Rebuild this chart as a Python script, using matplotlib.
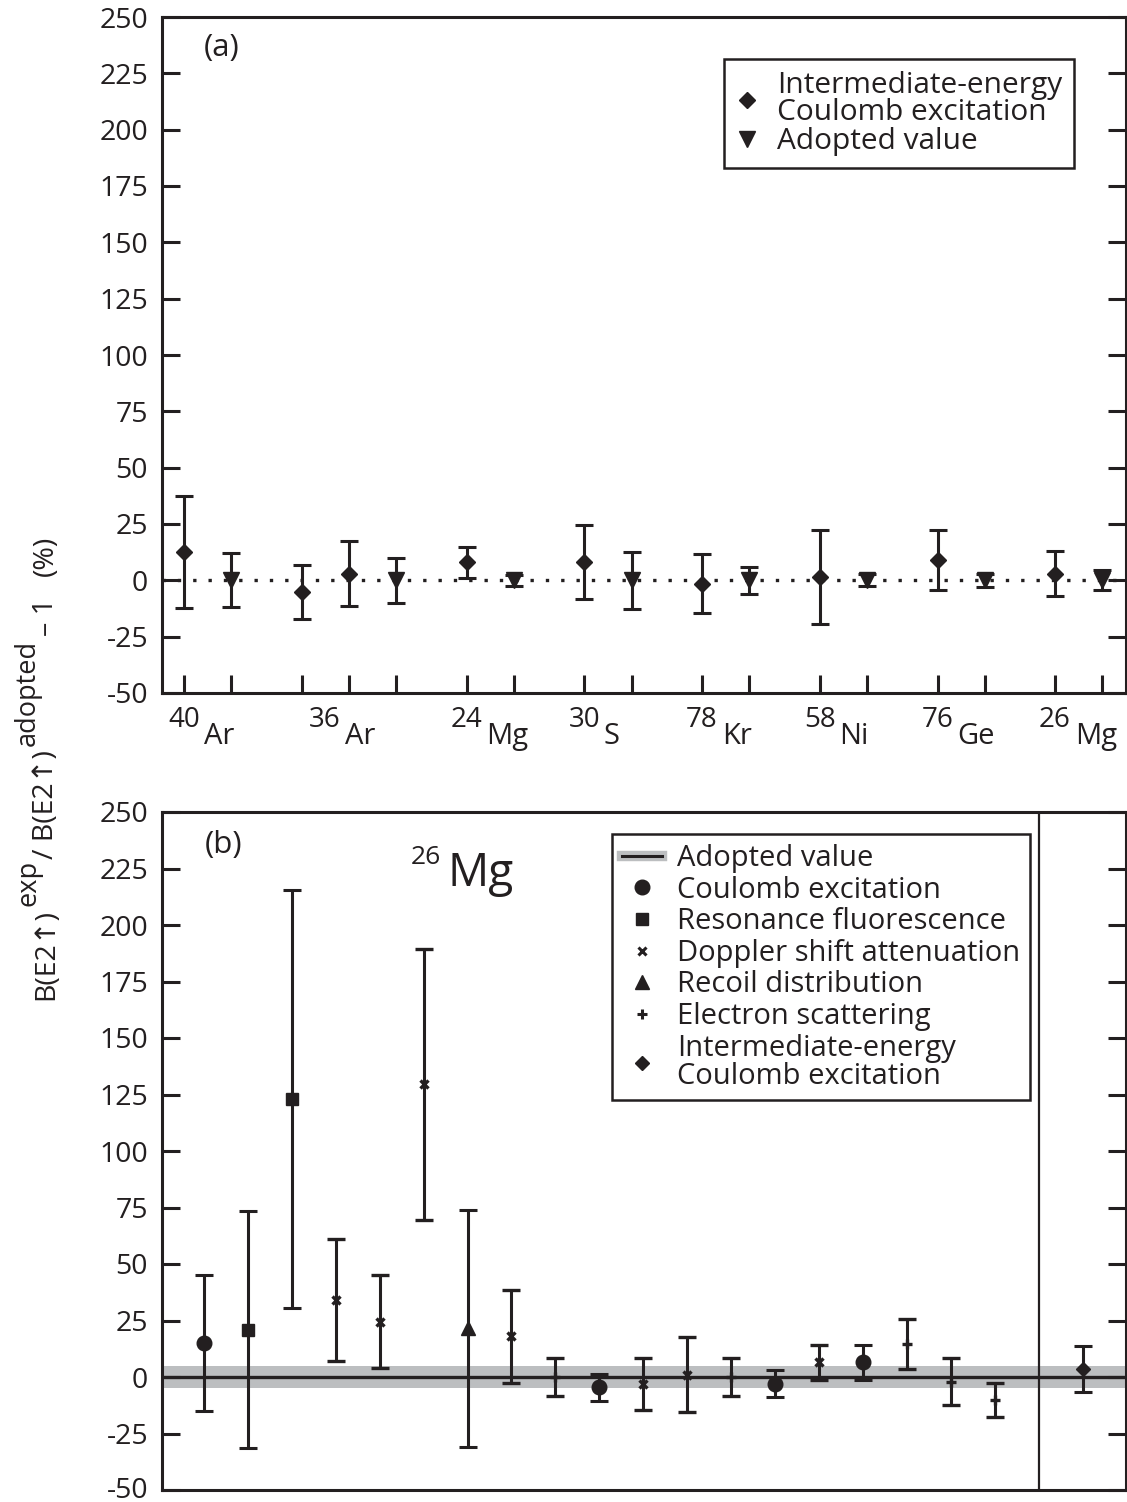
import matplotlib
matplotlib.use('Agg')
import matplotlib.pyplot as plt
from matplotlib.lines import Line2D
from matplotlib.transforms import ScaledTranslation
import numpy as np

plt.rcParams['font.family'] = ['Open Sans', 'DejaVu Sans']
plt.rcParams['axes.unicode_minus'] = False

# ---------------- data: panel (a) ----------------
a_mass = ['40', '36', '24', '30', '78', '58', '76', '26']
a_elem = ['Ar', 'Ar', 'Mg', 'S', 'Kr', 'Ni', 'Ge', 'Mg']
a_iec_val = [[12.5], [-5.0, 3.0], [8.0], [8.0], [-1.5], [1.5], [9.0], [3.0]]
a_iec_err = [[25.0], [12.0, 14.5], [7.0], [16.5], [13.0], [21.0], [13.5], [10.0]]
a_adopted_val = [0, 0, 0, 0, 0, 0, 0, 0]
a_adopted_err = [12.0, 10.0, 2.5, 12.7, 6.0, 2.7, 2.8, 4.5]

# ---------------- data: panel (b) 26Mg ----------------
b_method = ['C', 'R', 'R', 'D', 'D', 'D', 'RD', 'D', 'E', 'C',
            'D', 'D', 'E', 'C', 'D', 'C', 'E', 'E', 'E']
b_val = [15.0, 21.0, 123.0, 34.0, 24.5, 129.5, 21.5, 18.0, 0.0, -4.5,
         -3.0, 1.0, 0.0, -3.0, 6.5, 6.5, 14.5, -2.0, -10.0]
b_err = [30.0, 52.5, 92.5, 27.0, 20.5, 60.0, 52.5, 20.5, 8.4, 6.0,
         11.5, 16.5, 8.4, 6.0, 7.7, 7.7, 11.0, 10.3, 7.5]
b_iec_val = [3.4]
b_iec_err = [10.2]
b_adopted_band = 4.8

yticks = list(range(-50, 251, 25))

INK = '#231f20'
GREY = '#bcbec0'
W, H = 1127, 1502
fig = plt.figure(figsize=(W / 100, H / 100), dpi=100)


def fx(px):
    return px / W


def fy(py):
    return 1 - py / H


ax_a = fig.add_axes([fx(162), fy(693), fx(1126) - fx(162), fy(17) - fy(693)])
ax_b = fig.add_axes([fx(162), fy(1490), fx(1126) - fx(162), fy(812) - fy(1490)])

for ax in (ax_a, ax_b):
    for s in ax.spines.values():
        s.set_linewidth(2.2)
        s.set_color(INK)
    ax.set_ylim(-50, 250)
    ax.set_yticks(yticks)
    ax.set_yticklabels([str(v) for v in yticks])
    ax.tick_params(axis='y', direction='in', length=13, width=2.2, color=INK,
                   left=True, right=True, labelsize=20.5, pad=10, labelcolor=INK)

eb_kw = dict(color=INK, ecolor=INK, elinewidth=2.2, capsize=6.8, capthick=2.2,
             linestyle='none', zorder=3)

# ---------------- panel (a) ----------------
pos = 0.0
d_x, d_v, d_e, t_x, centers = [], [], [], [], []
for vals, errs in zip(a_iec_val, a_iec_err):
    gx = []
    for v, e in zip(vals, errs):
        d_x.append(pos); d_v.append(v); d_e.append(e); gx.append(pos)
        pos += 1
    t_x.append(pos); gx.append(pos)
    centers.append(np.mean(gx))
    pos += 1.5

ax_a.axhline(0, color=INK, lw=2.4, ls=(0, (1, 3.6)), zorder=1)
ax_a.errorbar(d_x, d_v, yerr=d_e, fmt='D', ms=8, **eb_kw)
ax_a.errorbar(t_x, a_adopted_val, yerr=a_adopted_err, fmt='v', ms=11.5, **eb_kw)
ax_a.set_xlim(-0.47, 20.0)
ax_a.set_xticks(sorted(d_x + t_x))
ax_a.tick_params(axis='x', direction='in', length=13, width=2.2, color=INK,
                 labelbottom=False, top=False)

for c, m, el in zip(centers, a_mass, a_elem):
    ax_a.annotate(m, xy=(c, 0), xycoords=('data', 'axes fraction'),
                  xytext=(-8, -34), textcoords='offset pixels',
                  ha='right', va='baseline', fontsize=20, color=INK)
    ax_a.annotate(el, xy=(c, 0), xycoords=('data', 'axes fraction'),
                  xytext=(-4, -51), textcoords='offset pixels',
                  ha='left', va='baseline', fontsize=21, color=INK)

h_a = [Line2D([], [], marker='D', ls='none', color=INK, ms=8),
       Line2D([], [], marker='v', ls='none', color=INK, ms=11.5)]
leg_a = ax_a.legend(h_a, ['Intermediate-energy\nCoulomb excitation', 'Adopted value'],
                    loc='upper left', bbox_to_anchor=(fx(724), fy(59)),
                    bbox_transform=fig.transFigure, borderaxespad=0,
                    fancybox=False, edgecolor=INK, framealpha=1, fontsize=21.5,
                    borderpad=0.4, handlelength=0.74, handletextpad=0.64,
                    labelspacing=0.0)
leg_a.get_frame().set_linewidth(1.8)
for t in leg_a.get_texts():
    t.set_linespacing(0.93)
    t.set_color(INK)

fig.text(fx(204), fy(48), '(a)', ha='left', va='center', fontsize=22.5, color=INK)

# ---------------- panel (b) ----------------
styles = {
    'C': dict(fmt='o', ms=10.5),
    'R': dict(fmt='s', ms=9),
    'D': dict(fmt='x', ms=6, mew=2.4),
    'RD': dict(fmt='^', ms=10.5),
    'E': dict(fmt='+', ms=7, mew=2.4),
}
b_x = np.arange(len(b_val))
ax_b.axhspan(-b_adopted_band, b_adopted_band, color=GREY, lw=0, zorder=1)
ax_b.axhline(0, color=INK, lw=2.4, zorder=2)
for code, st in styles.items():
    idx = [i for i, m in enumerate(b_method) if m == code]
    ax_b.errorbar(b_x[idx], np.array(b_val)[idx], yerr=np.array(b_err)[idx],
                  **st, **eb_kw)
sep = len(b_val)
ax_b.axvline(sep, color=INK, lw=1.6, zorder=2)
ax_b.errorbar([sep + 1], b_iec_val, yerr=b_iec_err, fmt='D', ms=7.5, **eb_kw)
ax_b.set_xlim(-0.95, 20.98)
ax_b.tick_params(axis='x', bottom=False, labelbottom=False)

# keep the lowest tick label of panel (b) inside the picture
lowest = ax_b.get_yticklabels()[0]
lowest.set_transform(lowest.get_transform() +
                     ScaledTranslation(0, 3 / 100, fig.dpi_scale_trans))

h_b = [(Line2D([], [], color=GREY, lw=7.5), Line2D([], [], color=INK, lw=2.2)),
       Line2D([], [], marker='o', ls='none', color=INK, ms=10.5),
       Line2D([], [], marker='s', ls='none', color=INK, ms=8.5),
       Line2D([], [], marker='x', ls='none', color=INK, ms=6, mew=2.2),
       Line2D([], [], marker='^', ls='none', color=INK, ms=10.5),
       Line2D([], [], marker='+', ls='none', color=INK, ms=7, mew=2.2),
       Line2D([], [], marker='D', ls='none', color=INK, ms=7.5)]
l_b = ['Adopted value', 'Coulomb excitation', 'Resonance fluorescence',
       'Doppler shift attenuation', 'Recoil distribution', 'Electron scattering',
       'Intermediate-energy\nCoulomb excitation']
leg_b = ax_b.legend(h_b, l_b, loc='upper left', bbox_to_anchor=(fx(612), fy(834)),
                    bbox_transform=fig.transFigure, borderaxespad=0,
                    fancybox=False, edgecolor=INK, framealpha=1, fontsize=21,
                    borderpad=0.34, handlelength=1.37, handletextpad=0.51,
                    labelspacing=0.09)
leg_b.get_frame().set_linewidth(1.8)
for t in leg_b.get_texts():
    t.set_linespacing(0.95)
    t.set_color(INK)

fig.text(fx(205), fy(845), '(b)', ha='left', va='center', fontsize=22.5, color=INK)
fig.text(fx(441), fy(864), '26', ha='right', va='baseline', fontsize=19, color=INK)
fig.text(fx(447), fy(886), 'Mg', ha='left', va='baseline', fontsize=33, color=INK)

# ---------------- y label (rotated, composed) ----------------
renderer = fig.canvas.get_renderer()
pieces = [('B(E2↑)', 0, 20.5, 0), ('exp', 18, 19.5, 3), ('/ B(E2↑)', 0, 20.5, 1),
          ('adopted', 18, 19.5, 4), ('– 1', 0, 20.5, 4), ('(%)', 0, 20.5, 22)]
x_base = 53
y_disp = H - 1000
for txt, raise_px, fs, gap in pieces:
    y_disp += gap
    t = fig.text((x_base - raise_px) / W, y_disp / H, txt, rotation=90,
                 rotation_mode='anchor', ha='left', va='baseline',
                 fontsize=fs, color=INK)
    bb = t.get_window_extent(renderer)
    y_disp = bb.y1

fig.savefig('out.png', dpi=100)
